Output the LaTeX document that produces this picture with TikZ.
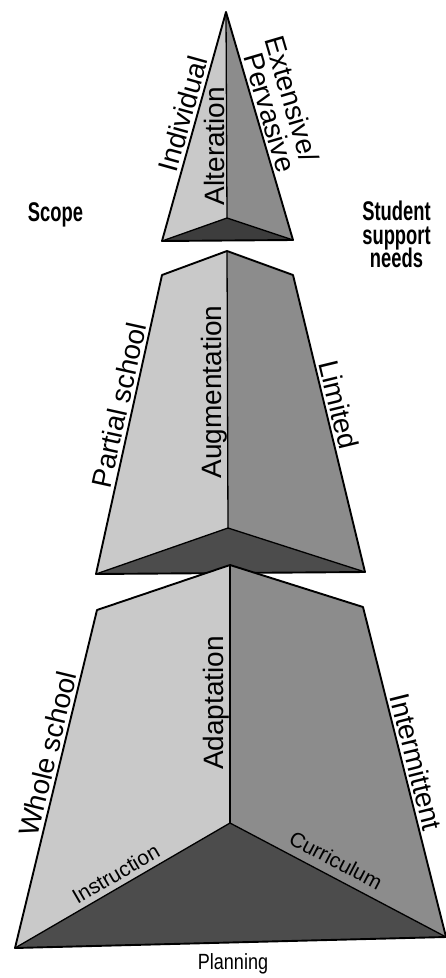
\documentclass[tikz,border=0pt]{standalone}
\usepackage{fontspec}
\setmainfont{Liberation Sans}
\newfontfamily\condfont[FakeStretch=0.68]{Liberation Sans}
\newfontfamily\narrowfont[FakeStretch=0.82]{Liberation Sans}
\definecolor{facelight}{gray}{0.79}
\definecolor{facemid}{gray}{0.55}
\definecolor{facedark}{gray}{0.30}
\begin{document}
\begin{tikzpicture}[x=1pt,y=-1pt,
  outline/.style={draw=black,line width=1.9pt,line join=round},
  innerline/.style={draw=black,line width=1.3pt,line join=round},
  lbl/.style={font=\fontsize{28}{30}\selectfont,inner sep=0pt,anchor=base},
  smalllbl/.style={font=\fontsize{21}{23}\selectfont,inner sep=0pt,anchor=base},
  headlbl/.style={font=\condfont\bfseries\fontsize{27}{28}\selectfont,inner sep=0pt,anchor=base}]
\useasboundingbox[fill=white] (0,0) rectangle (446,978);
% top pyramid
\coordinate (A1) at (226,12);
\coordinate (L1) at (162,241);
\coordinate (R1) at (293,240);
\coordinate (C1) at (227,218);
% middle frustum
\coordinate (TL2) at (162,275);
\coordinate (T2) at (227,251);
\coordinate (TR2) at (293,275);
\coordinate (BL2) at (96,574);
\coordinate (BR2) at (365,572);
\coordinate (C2) at (228,528);
% bottom frustum
\coordinate (TL3) at (97,610);
\coordinate (T3) at (230,565);
\coordinate (TR3) at (363,607);
\coordinate (BL3) at (15,948);
\coordinate (BR3) at (446,937);
\coordinate (C3) at (230,823);

% top pyramid
\fill[facelight] (A1)--(C1)--(L1)--cycle;
\fill[facemid] (A1)--(R1)--(C1)--cycle;
\fill[facedark!80!black] (L1)--(C1)--(R1)--cycle;
\draw[innerline] (A1)--(C1);
\draw[innerline] (L1)--(C1)--(R1);
\draw[outline] (A1)--(R1)--(L1)--cycle;

% middle frustum
\fill[facelight] (TL2)--(T2)--(C2)--(BL2)--cycle;
\fill[facemid] (T2)--(TR2)--(BR2)--(C2)--cycle;
\fill[facedark] (BL2)--(C2)--(BR2)--cycle;
\draw[innerline] (T2)--(C2);
\draw[innerline] (BL2)--(C2)--(BR2);
\draw[outline] (TL2)--(T2)--(TR2)--(BR2)--(BL2)--cycle;

% bottom frustum
\fill[facelight] (TL3)--(T3)--(C3)--(BL3)--cycle;
\fill[facemid] (T3)--(TR3)--(BR3)--(C3)--cycle;
\fill[facedark] (BL3)--(C3)--(BR3)--cycle;
\draw[innerline] (T3)--(C3);
\draw[innerline] (BL3)--(C3)--(BR3);
\draw[outline] (TL3)--(T3)--(TR3)--(BR3)--(BL3)--cycle;

% labels of the top pyramid
\node[lbl,rotate=74.4] (individual) at (192.7,116.2) {Individual};
\node[lbl,rotate=90] (alteration) at (224,146) {Alteration};
\node[lbl,rotate=-73.6] (pervasive) at (260.4,115.1) {Pervasive};
\node[lbl,rotate=-73.6] (extensive) at (282.6,101.8) {Extensive/};

% labels of the middle frustum
\node[lbl,rotate=77.55] (partial) at (128.7,407.1) {Partial school};
\node[lbl,rotate=90] (augmentation) at (221,392) {Augmentation};
\node[lbl,rotate=-76.4] (limited) at (329.2,407.1) {Limited};

% labels of the bottom frustum
\node[lbl,rotate=76.36] (whole) at (57.4,756.1) {Whole school};
\node[lbl,rotate=90] (adaptation) at (223,703) {Adaptation};
\node[lbl,rotate=-75.9] (intermittent) at (406.7,764.4) {Intermittent};
\node[smalllbl,rotate=30.2] (instruction) at (119.5,880.3) {Instruction};
\node[smalllbl,rotate=-27.8] (curriculum) at (332.4,866.8) {Curriculum};
\node[font=\narrowfont\fontsize{22}{24}\selectfont,inner sep=0pt,anchor=base] (planning) at (233,969) {Planning};

% side headings
\node[headlbl] (scope) at (55.5,221) {Scope};
\node[headlbl] (student1) at (396.5,220) {Student};
\node[headlbl] (student2) at (396.5,244) {support};
\node[headlbl] (student3) at (396.5,267) {needs};
\end{tikzpicture}
\end{document}
